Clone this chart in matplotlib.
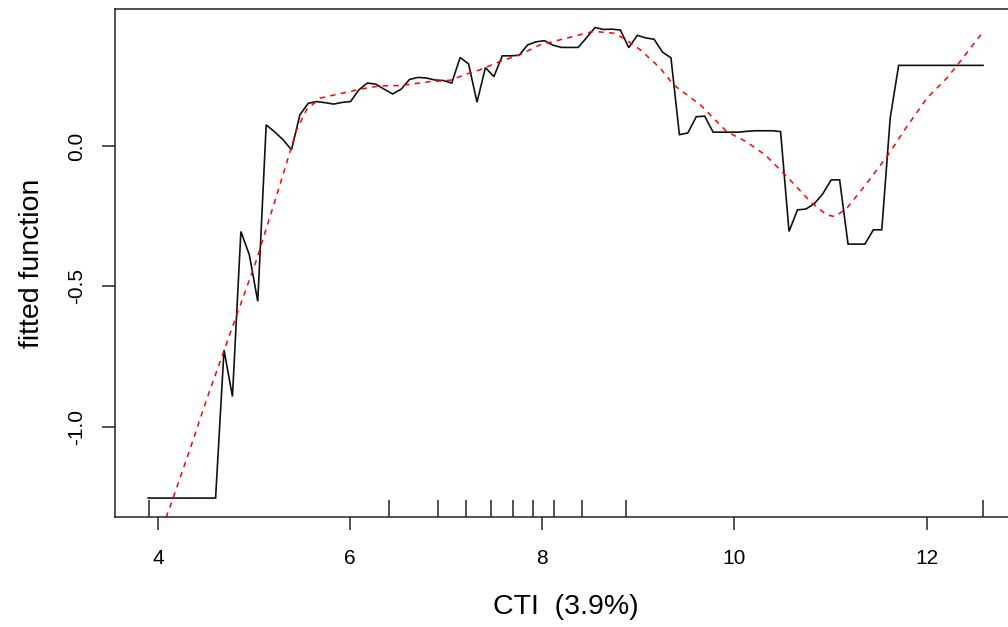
import matplotlib
matplotlib.use("Agg")
import matplotlib.pyplot as plt
import numpy as np

# ---- data ----
x_start = 3.896
x_end = 12.588
n_points = 100

fitted = [
    -1.254, -1.254, -1.254, -1.254, -1.254, -1.254, -1.254, -1.254, -1.254, -0.726,
    -0.892, -0.304, -0.387, -0.553, 0.076, 0.051, 0.023, -0.013, 0.112, 0.153,
    0.159, 0.155, 0.150, 0.156, 0.159, 0.201, 0.225, 0.221, 0.203, 0.186,
    0.203, 0.238, 0.245, 0.243, 0.236, 0.234, 0.225, 0.316, 0.293, 0.157,
    0.280, 0.248, 0.322, 0.322, 0.324, 0.361, 0.372, 0.376, 0.360, 0.352,
    0.352, 0.352, 0.387, 0.423, 0.416, 0.417, 0.414, 0.351, 0.395, 0.386,
    0.381, 0.335, 0.315, 0.041, 0.047, 0.105, 0.107, 0.050, 0.050, 0.050,
    0.050, 0.053, 0.055, 0.055, 0.055, 0.052, -0.304, -0.227, -0.224, -0.205,
    -0.170, -0.120, -0.120, -0.349, -0.349, -0.349, -0.298, -0.298, 0.101, 0.288,
    0.288, 0.288, 0.288, 0.288, 0.288, 0.288, 0.288, 0.288, 0.288, 0.288,
]

smooth_x = [3.896, 4.156, 4.330, 4.504, 4.677, 4.851, 5.025, 5.198, 5.338, 5.442,
            5.546, 5.684, 5.893, 6.101, 6.309, 6.518, 6.830, 7.039, 7.247, 7.351,
            7.559, 7.768, 7.976, 8.184, 8.393, 8.531, 8.740, 8.844, 9.018, 9.226,
            9.365, 9.643, 9.921, 10.129, 10.320, 10.546, 10.789, 10.960, 11.049, 11.171,
            11.379, 11.588, 11.796, 12.004, 12.213, 12.351, 12.588]
smooth_y = [-1.503, -1.254, -1.082, -0.904, -0.737, -0.571, -0.405, -0.215, -0.060, 0.058,
            0.130, 0.171, 0.187, 0.203, 0.215, 0.216, 0.230, 0.235, 0.261, 0.272,
            0.302, 0.326, 0.361, 0.379, 0.397, 0.409, 0.403, 0.385, 0.344, 0.279,
            0.219, 0.148, 0.052, 0.015, -0.031, -0.108, -0.197, -0.245, -0.251, -0.221,
            -0.132, -0.037, 0.070, 0.171, 0.243, 0.302, 0.407]

rug_x = [3.90, 6.40, 6.91, 7.21, 7.47, 7.69, 7.90, 8.12, 8.41, 8.87, 12.59]

x_ticks = [4, 6, 8, 10, 12]
x_tick_labels = ["4", "6", "8", "10", "12"]
y_ticks = [-1.0, -0.5, 0.0]
y_tick_labels = ["-1.0", "-0.5", "0.0"]

x_label = "CTI  (3.9%)"
y_label = "fitted function"

# ---- drawing ----
plt.rcParams['font.family'] = ['Liberation Sans', 'DejaVu Sans']

W, H = 1008, 627
fig = plt.figure(figsize=(W / 100, H / 100), dpi=100)
left, right, bottom, top = 114.7, 1016.5, 517, 9
ax = fig.add_axes([left / W, 1 - bottom / H, (right - left) / W, (bottom - top) / H])

grid_x = np.linspace(x_start, x_end, n_points)
ax.plot(grid_x, fitted, color="#111111", lw=1.2, solid_joinstyle="miter")
ax.plot(smooth_x, smooth_y, color="red", lw=1.1, linestyle=(0, (3.5, 3.5)))

ax.vlines(rug_x, 0, 17 / (bottom - top), transform=ax.get_xaxis_transform(),
          color="#222222", lw=1.1)

ax.set_xlim(3.548, 12.937)
ax.set_ylim(-1.3215, 0.4889)

ax.set_xticks(x_ticks)
ax.set_xticklabels(x_tick_labels)
ax.set_yticks(y_ticks)
ax.set_yticklabels(y_tick_labels, rotation=90, va="center")

ax.tick_params(axis="both", length=9.4, width=1.1, labelsize=15, color="#222222")
ax.tick_params(axis="x", pad=14)
ax.tick_params(axis="y", pad=11.5)
for s in ax.spines.values():
    s.set_linewidth(1.1)
    s.set_color("#222222")

ax.set_xlabel(x_label, fontsize=20.5, labelpad=18.3)
ax.set_ylabel(y_label, fontsize=20.5, labelpad=15.8)

fig.savefig("out.png", dpi=100)
